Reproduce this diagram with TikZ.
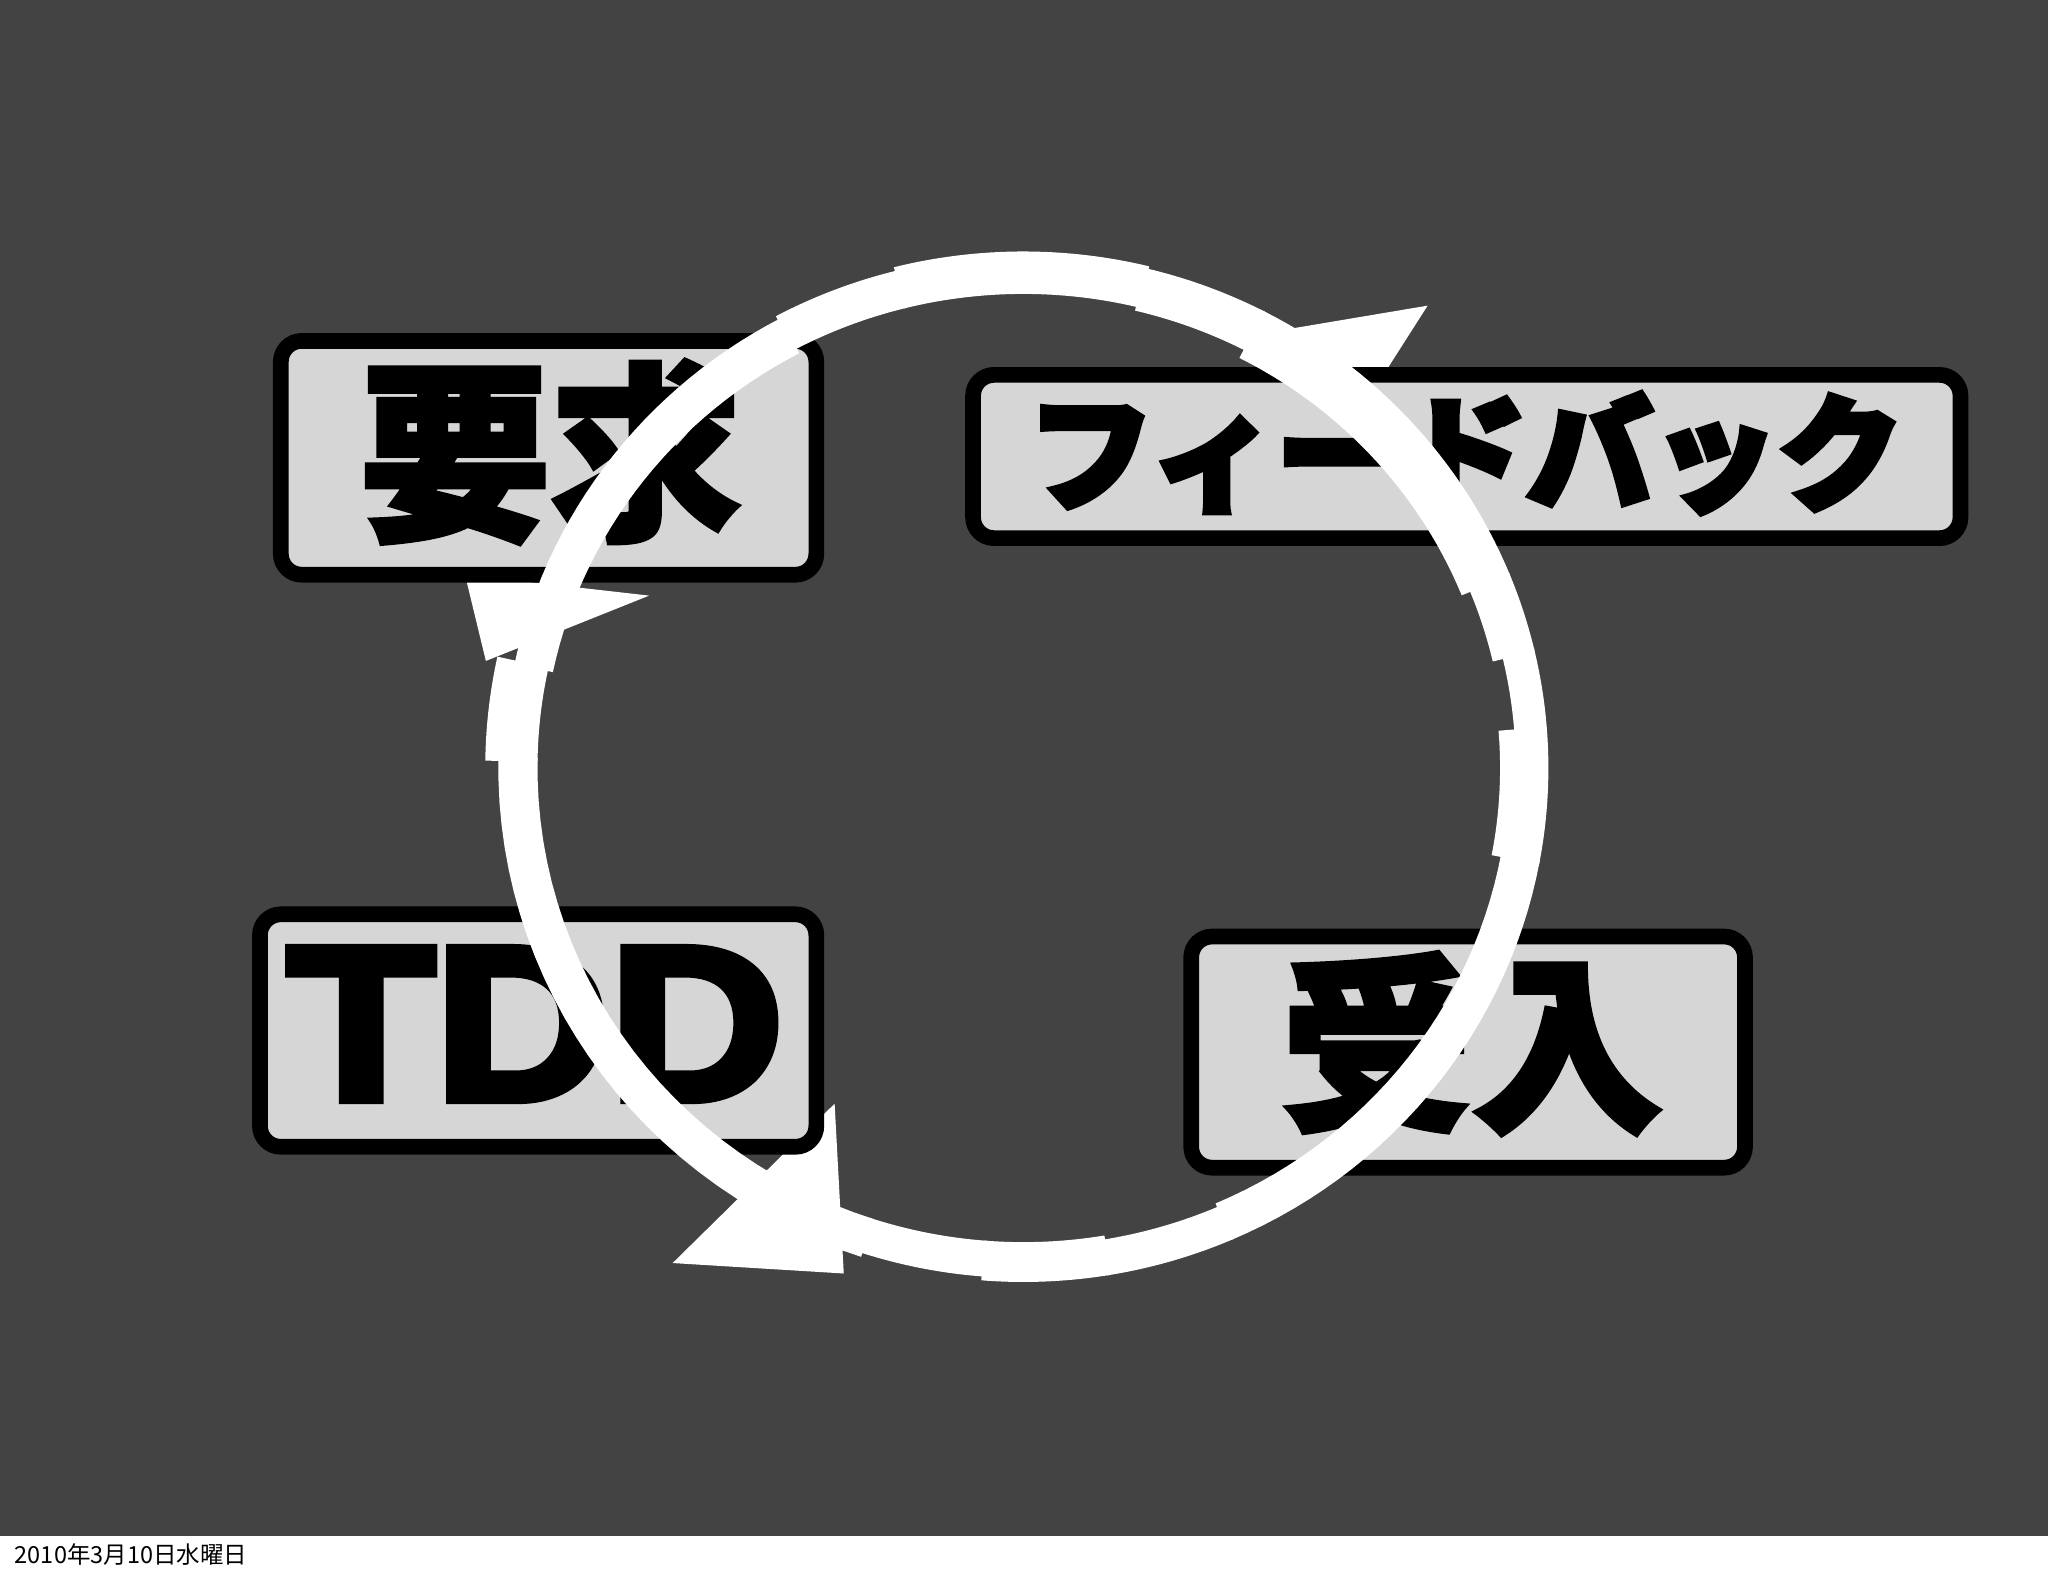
\documentclass[tikz,border=0pt]{standalone}
\usepackage{fontspec}
\setmainfont{Liberation Sans}
\IfFontExistsTF{Noto Sans CJK JP Black}{\newfontfamily\jpheavy{Noto Sans CJK JP Black}}{%
  \IfFontExistsTF{Noto Sans CJK JP Bold}{\newfontfamily\jpheavy{Noto Sans CJK JP Bold}}{%
    \newfontfamily\jpheavy{Noto Sans CJK JP}}}
\newfontfamily\jp{Noto Sans CJK JP}
\newfontfamily\heavysans{Liberation Sans Bold}
\newcommand{\heavytext}[2]{\special{pdf:literal direct 2 Tr #1 w 0 G}#2\special{pdf:literal direct 0 Tr 0.4 w}}
\definecolor{bg}{HTML}{434343}
\definecolor{boxfill}{HTML}{D6D6D6}
\begin{document}
\begin{tikzpicture}[x=0.5pt,y=-0.5pt,
  box/.style={draw=black, line width=6pt, fill=boxfill, rounded corners=8pt, inner sep=0pt},
  ringfill/.style={fill=white},
  head/.style={fill=white},
  bigjp/.style={font=\jpheavy\fontsize{73pt}{73pt}\selectfont, text=black, inner sep=0pt},
  midjp/.style={font=\jpheavy\fontsize{48pt}{48pt}\selectfont, text=black, inner sep=0pt},
  tddfont/.style={font=\heavysans\fontsize{84pt}{84pt}\selectfont, text=black, inner sep=0pt},
  datefont/.style={font=\jp\fontsize{9pt}{10pt}\selectfont, text=black, inner sep=0pt}]
\useasboundingbox (0,0) rectangle (1568,1207);
\fill[white] (0,0) rectangle (1568,1207);
\fill[bg] (0,0) rectangle (1568,1176);

% arrowheads (behind the boxes)
\fill[head] (356,440) -- (497,456) -- (372,506) -- cycle;
\fill[head] (986,252) -- (1093,234) -- (1033,328) -- cycle;
\fill[head] (515,967) -- (646,975) -- (639,845) -- cycle;

% boxes
\node[box, minimum width=205pt, minimum height=89.5pt] (req) at (420,350.5) {};
\node[box, minimum width=378pt, minimum height=62.5pt] (fb) at (1123,349.5) {};
\node[box, minimum width=213pt, minimum height=89pt] (tdd) at (412,789) {};
\node[box, minimum width=212pt, minimum height=88.5pt] (acc) at (1124,805.5) {};

% labels
\node[bigjp] (reqt) at (421.5,346) {\heavytext{1.8}{要求}};
\node[midjp] (fbt) at (1122,347) {\heavytext{2.4}{フィードバック}};
\node[tddfont] (tddt) at (410,784) {\heavytext{3.5}{\scalebox{1.1}[1]{TDD}}};
\node[bigjp] (acct) at (1127,799) {\heavytext{2}{受入}};

% ring (in front of the boxes)
\foreach \a/\b/\o/\i in {-108.5/-94.2/-3/0, -94.6/-80.4/0/0, -80.8/-66.3/0/3,
  -66.7/-10.4/0/0, -10.8/4.6/0/-7, 4.2/13.5/0/5, 13.1/22.4/0/-3, 22.0/62.8/0/-10,
  62.4/76.6/0/-3, 76.2/104.2/2/0, 103.8/118.2/-1/0, 117.8/168.2/-4/-4,
  167.8/179.2/10/0, 178.8/252/0/0} {
  \fill[ringfill] plot[domain=\a:\b, samples=30, variable=\t]
      ({783.5+(402+\o)*cos(\t)},{588-(393.5+\o)*sin(\t)})
    -- plot[domain=\b:\a, samples=30, variable=\t]
      ({783.5+(372+\i)*cos(\t)},{588-(363+\i)*sin(\t)}) -- cycle;
}

% date
\node[datefont, anchor=base west] (date) at (11,1197) {2010年3月10日水曜日};
\end{tikzpicture}
\end{document}
